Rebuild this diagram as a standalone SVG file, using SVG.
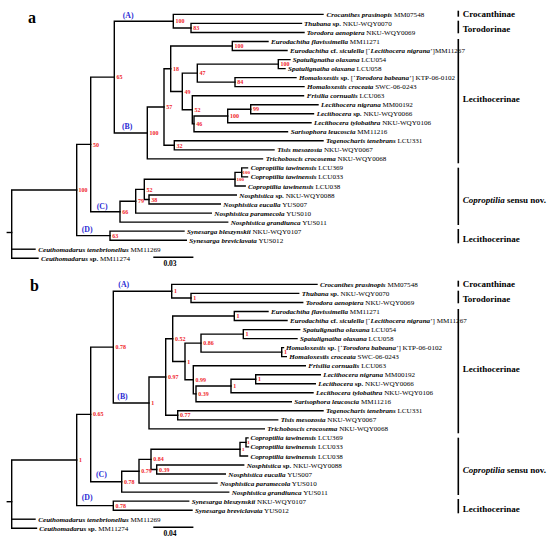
<svg xmlns="http://www.w3.org/2000/svg" width="550" height="541" viewBox="0 0 550 541">
<style>
.br{stroke:#000;stroke-width:1.4;fill:none;stroke-linecap:square}
.t{font-family:"Liberation Serif",serif;font-size:7.1px;fill:#000}
.sp{font-weight:bold;font-style:italic}
.b{font-weight:bold}
.bs{font-family:"Liberation Serif",serif;font-size:6px;font-weight:bold;fill:#f0262b}
.bsm{font-family:"Liberation Serif",serif;font-size:5px;font-weight:bold;fill:#f0262b}
.cl{font-family:"Liberation Serif",serif;font-size:7.8px;font-weight:bold;fill:#2a2ad4}
.grp{font-family:"Liberation Serif",serif;font-size:9px;font-weight:bold;fill:#000}
.bar{stroke:#000;stroke-width:1.6}
.pl{font-family:"Liberation Serif",serif;font-size:16px;font-weight:bold}
.sc{font-family:"Liberation Serif",serif;font-size:7.5px;font-weight:bold;text-anchor:middle}
</style>
<defs>
<g id="groups">
<g id="grp-crocanthinae"><line class="bar" x1="458.3" y1="10.7" x2="458.3" y2="16.7"/><text class="grp" x="462.7" y="17">Crocanthinae</text></g>
<g id="grp-torodorinae"><line class="bar" x1="458.3" y1="20.7" x2="458.3" y2="33.3"/><text class="grp" x="462.7" y="31.5">Torodorinae</text></g>
<g id="grp-lecithocerinae1"><line class="bar" x1="458.3" y1="39" x2="458.3" y2="163.3"/><text class="grp" x="462.7" y="102">Lecithocerinae</text></g>
<g id="grp-coproptilia"><line class="bar" x1="458.3" y1="167.7" x2="458.3" y2="225"/><text class="grp" x="462.7" y="202.5"><tspan font-style="italic">Coproptilia</tspan> sensu nov.</text></g>
<g id="grp-lecithocerinae2"><line class="bar" x1="458.3" y1="229" x2="458.3" y2="243.3"/><text class="grp" x="462.7" y="241.5">Lecithocerinae</text></g>
</g>
</defs>

<!-- ================= TREE A ================= -->
<g id="tree-a">
<text class="pl" x="28" y="22.5">a</text>
<g id="a-connectors">
<path class="br" d="M76.7 190 H11.7 V258.2 H38"/>
<path class="br" d="M11.7 249.2 H35"/>
<path class="br" d="M7.3 232.5 H11.7"/>
<path class="br" d="M90.7 144.4 H76.7 V235.6 H110"/>
<path class="br" d="M114.3 77.1 H90.7 V211.7 H120"/>
<path class="br" d="M173.3 21.2 H114.3 V133 H147.3"/>
<path class="br" d="M323 14.4 H173.3 V28 H191"/>
<path class="br" d="M301.5 23.4 H191 V32.5 H304"/>
<path class="br" d="M164 107 H147.3 V158.9 H262.5"/>
<path class="br" d="M170.7 68.7 H164 V145.3 H174.3"/>
<path class="br" d="M232.3 46 H170.7 V91.5 H182.3"/>
<path class="br" d="M268 41.5 H232.3 V50.5 H287"/>
<path class="br" d="M197.3 73.1 H182.3 V109.8 H192.3"/>
<path class="br" d="M278.3 64.1 H197.3 V82.1 H235"/>
<path class="br" d="M290 59.6 H278.3 V68.6 H285"/>
<path class="br" d="M296 77.6 H235 V86.6 H304"/>
<path class="br" d="M303.5 95.7 H192.3 V123.9 H194"/>
<path class="br" d="M227.7 116 H194 V131.8 H287.5"/>
<path class="br" d="M250.7 109.2 H227.7 V122.8 H311"/>
<path class="br" d="M318 104.7 H250.7 V113.7 H313.5"/>
<path class="br" d="M323 140.8 H174.3 V149.9 H274"/>
<path class="br" d="M135.7 201.2 H120 V222.1 H227.7"/>
<path class="br" d="M144.3 189.4 H135.7 V213.1 H211.3"/>
<path class="br" d="M235 179.2 H144.3 V199.5 H149"/>
<path class="br" d="M241.7 172.4 H235 V186 H245.2"/>
<path class="br" d="M247.5 167.9 H241.7 V176.9 H247.5"/>
<path class="br" d="M236.3 195 H149 V204 H220.3"/>
<path class="br" d="M184 231.1 H110 V240.2 H186.3"/>
<path class="br" d="M154 257.3 H192.7"/>
</g>
<text class="sc" x="170" y="265.5">0.03</text>
<g id="a-clades">
<text class="cl" x="122.7" y="17.5">(A)</text>
<text class="cl" x="122" y="129.2">(B)</text>
<text class="cl" x="96.7" y="208.5">(C)</text>
<text class="cl" x="81.7" y="232">(D)</text>
</g>
<g id="a-support">
<text class="bs" x="78.5" y="192.2">100</text>
<text class="bs" x="93" y="146.6">50</text>
<text class="bs" x="116.6" y="79.3">65</text>
<text class="bs" x="175.6" y="23.4">100</text>
<text class="bs" x="193.3" y="30.2">83</text>
<text class="bs" x="149.6" y="135.2">100</text>
<text class="bs" x="166.3" y="109.2">57</text>
<text class="bs" x="173" y="70.9">18</text>
<text class="bs" x="234.6" y="48.2">100</text>
<text class="bs" x="184.6" y="93.7">49</text>
<text class="bs" x="199.6" y="75.3">47</text>
<text class="bs" x="280.6" y="66.3">100</text>
<text class="bs" x="237.3" y="84.3">84</text>
<text class="bs" x="194.6" y="112">52</text>
<text class="bs" x="196.3" y="126.1">46</text>
<text class="bs" x="230" y="118.2">100</text>
<text class="bs" x="253" y="111.4">99</text>
<text class="bs" x="176.6" y="147.5">32</text>
<text class="bs" x="122.3" y="213.9">66</text>
<text class="bs" x="138" y="203.4">79</text>
<text class="bs" x="146.6" y="191.6">52</text>
<text class="bs" x="151.3" y="201.7">38</text>
<text class="bsm" x="236.6" y="181.1">100</text>
<text class="bsm" x="242.6" y="174.2">100</text>
<text class="bs" x="112.3" y="237.8">63</text>
</g>
<g id="a-taxa">
<text id="a01" class="t" x="326.5" y="16.9"><tspan class="sp">Crocanthes prasinopis</tspan> MM07548</text>
<text id="a02" class="t" x="304" y="25.9"><tspan class="sp">Thubana</tspan> <tspan class="b">sp.</tspan> NKU-WQY0070</text>
<text id="a03" class="t" x="306.7" y="35"><tspan class="sp">Torodora aenoptera</tspan> NKU-WQY0069</text>
<text id="a04" class="t" x="271" y="44"><tspan class="sp">Eurodachtha flavissimella</tspan> MM11271</text>
<text id="a05" class="t" x="290" y="53"><tspan class="sp">Eurodachtha</tspan> <tspan class="b">cf.</tspan> <tspan class="sp">siculella</tspan> [‘<tspan class="sp">Lecithocera nigrana</tspan>’]MM11267</text>
<text id="a06" class="t" x="292.7" y="62.1"><tspan class="sp">Spatulignatha olaxana</tspan> LCU054</text>
<text id="a07" class="t" x="288" y="71.1"><tspan class="sp">Spatulignatha olaxana</tspan> LCU058</text>
<text id="a08" class="t" x="299" y="80.1"><tspan class="sp">Homaloxestis</tspan> <tspan class="b">sp.</tspan> [‘<tspan class="sp">Torodora babeana</tspan>’] KTP-06-0102</text>
<text id="a09" class="t" x="307" y="89.1"><tspan class="sp">Homaloxestis croceata</tspan> SWC-06-0243</text>
<text id="a10" class="t" x="306.7" y="98.2"><tspan class="sp">Frisilia cornualis</tspan> LCU063</text>
<text id="a11" class="t" x="321" y="107.2"><tspan class="sp">Lecithocera nigrana</tspan> MM00192</text>
<text id="a12" class="t" x="316.7" y="116.2"><tspan class="sp">Lecithocera</tspan> <tspan class="b">sp.</tspan> NKU-WQY0066</text>
<text id="a13" class="t" x="314" y="125.3"><tspan class="sp">Lecithocera tylobathra</tspan> NKU-WQY0106</text>
<text id="a14" class="t" x="290.7" y="134.3"><tspan class="sp">Sarisophora leucoscia</tspan> MM11216</text>
<text id="a15" class="t" x="326" y="143.3"><tspan class="sp">Tegenocharis tenebrans</tspan> LCU331</text>
<text id="a16" class="t" x="277.3" y="152.4"><tspan class="sp">Tisis mesozosta</tspan> NKU-WQY0067</text>
<text id="a17" class="t" x="265.7" y="161.4"><tspan class="sp">Trichoboscis crocosema</tspan> NKU-WQY0068</text>
<text id="a18" class="t" x="250.8" y="170.4"><tspan class="sp">Coproptilia tawinensis</tspan> LCU369</text>
<text id="a19" class="t" x="250.8" y="179.4"><tspan class="sp">Coproptilia tawinensis</tspan> LCU033</text>
<text id="a20" class="t" x="248" y="188.5"><tspan class="sp">Coproptilia tawinensis</tspan> LCU038</text>
<text id="a21" class="t" x="239.3" y="197.5"><tspan class="sp">Nosphistica</tspan> <tspan class="b">sp.</tspan> NKU-WQY0088</text>
<text id="a22" class="t" x="223.3" y="206.5"><tspan class="sp">Nosphistica eucalla</tspan> YUS007</text>
<text id="a23" class="t" x="214.3" y="215.6"><tspan class="sp">Nosphistica paramecola</tspan> YUS010</text>
<text id="a24" class="t" x="230.7" y="224.6"><tspan class="sp">Nosphistica grandiunca</tspan> YUS011</text>
<text id="a25" class="t" x="187" y="233.6"><tspan class="sp">Synesarga bleszynskii</tspan> NKU-WQY0107</text>
<text id="a26" class="t" x="189.3" y="242.7"><tspan class="sp">Synesarga breviclavata</tspan> YUS012</text>
<text id="a27" class="t" x="38.3" y="251.7"><tspan class="sp">Ceuthomadarus tenebrionellus</tspan> MM11269</text>
<text id="a28" class="t" x="41" y="260.7"><tspan class="sp">Ceuthomadarus</tspan> <tspan class="b">sp.</tspan> MM11274</text>
</g>
<use id="a-groups" href="#groups"/>
</g>

<!-- ================= TREE B ================= -->
<g id="tree-b" transform="translate(0,270)">
<text class="pl" x="30" y="20.5">b</text>
<g id="b-connectors">
<path class="br" d="M76.7 190 H11.7 V258.2 H36.5"/>
<path class="br" d="M11.7 249.2 H35"/>
<path class="br" d="M7.3 231.7 H11.7"/>
<path class="br" d="M90.7 144.4 H76.7 V235.6 H113.3"/>
<path class="br" d="M113.3 77.1 H90.7 V211.7 H121.7"/>
<path class="br" d="M171.7 21.2 H113.3 V133 H149"/>
<path class="br" d="M317 14.4 H171.7 V28 H191"/>
<path class="br" d="M298.7 23.4 H191 V32.5 H302.7"/>
<path class="br" d="M165.7 107 H149 V158.9 H264.3"/>
<path class="br" d="M172.7 68.7 H165.7 V145.3 H177.7"/>
<path class="br" d="M234.3 46 H172.7 V91.5 H185"/>
<path class="br" d="M268 41.5 H234.3 V50.5 H287"/>
<path class="br" d="M201 73.1 H185 V109.8 H193.3"/>
<path class="br" d="M243.3 64.1 H201 V82.1 H281.7"/>
<path class="br" d="M299.7 59.6 H243.3 V68.6 H297"/>
<path class="br" d="M283.5 77.6 H281.7 V86.6 H286.3"/>
<path class="br" d="M305.3 95.7 H193.3 V123.9 H196"/>
<path class="br" d="M231 116 H196 V131.8 H291.3"/>
<path class="br" d="M255.7 109.2 H231 V122.8 H313"/>
<path class="br" d="M320.3 104.7 H255.7 V113.7 H315.3"/>
<path class="br" d="M323 140.8 H177.7 V149.9 H277.7"/>
<path class="br" d="M139 201.2 H121.7 V222.1 H228.7"/>
<path class="br" d="M151 189.4 H139 V213.1 H217"/>
<path class="br" d="M240 179.2 H151 V199.5 H156.7"/>
<path class="br" d="M246 172.4 H240 V186 H247.5"/>
<path class="br" d="M248 167.9 H246 V176.9 H248.5"/>
<path class="br" d="M243.7 195 H156.7 V204 H225.3"/>
<path class="br" d="M188.7 231.1 H113.3 V240.2 H192"/>
<path class="br" d="M154 257.3 H192.7"/>
</g>
<text class="sc" x="170" y="265.5">0.04</text>
<g id="b-clades">
<text class="cl" x="118.3" y="16.5">(A)</text>
<text class="cl" x="117.3" y="128.5">(B)</text>
<text class="cl" x="96" y="207">(C)</text>
<text class="cl" x="81.7" y="230.3">(D)</text>
</g>
<g id="b-support">
<text class="bs" x="79" y="192">1</text>
<text class="bs" x="93" y="146.4">0.65</text>
<text class="bs" x="115.6" y="79.1">0.78</text>
<text class="bs" x="174" y="23.2">1</text>
<text class="bs" x="193.3" y="30">1</text>
<text class="bs" x="151.3" y="135">1</text>
<text class="bs" x="168" y="109">0.97</text>
<text class="bs" x="175" y="70.7">0.52</text>
<text class="bs" x="236.6" y="48">1</text>
<text class="bs" x="187.3" y="93.5">1</text>
<text class="bs" x="203.3" y="75.1">0.86</text>
<text class="bs" x="245.6" y="66.1">1</text>
<text class="bs" x="284" y="84.1">1</text>
<text class="bs" x="195.6" y="111.8">0.99</text>
<text class="bs" x="198.3" y="125.9">0.39</text>
<text class="bs" x="233.3" y="118">1</text>
<text class="bs" x="258" y="111.2">1</text>
<text class="bs" x="180" y="147.3">0.77</text>
<text class="bs" x="124" y="213.7">0.78</text>
<text class="bs" x="141.3" y="203.2">0.79</text>
<text class="bs" x="153.3" y="191.4">0.84</text>
<text class="bs" x="159" y="201.5">0.39</text>
<text class="bsm" x="242" y="181">1</text>
<text class="bsm" x="247.3" y="174.1">1</text>
<text class="bs" x="115.6" y="237.6">0.78</text>
</g>
<g id="b-taxa">
<text id="b01" class="t" x="320" y="16.9"><tspan class="sp">Crocanthes prasinopis</tspan> MM07548</text>
<text id="b02" class="t" x="301.7" y="25.9"><tspan class="sp">Thubana</tspan> <tspan class="b">sp.</tspan> NKU-WQY0070</text>
<text id="b03" class="t" x="305.7" y="35"><tspan class="sp">Torodora aenoptera</tspan> NKU-WQY0069</text>
<text id="b04" class="t" x="271" y="44"><tspan class="sp">Eurodachtha flavissimella</tspan> MM11271</text>
<text id="b05" class="t" x="290" y="53"><tspan class="sp">Eurodachtha</tspan> <tspan class="b">cf.</tspan> <tspan class="sp">siculella</tspan> [‘<tspan class="sp">Lecithocera nigrana</tspan>’] MM11267</text>
<text id="b06" class="t" x="302.7" y="62.1"><tspan class="sp">Spatulignatha olaxana</tspan> LCU054</text>
<text id="b07" class="t" x="300" y="71.1"><tspan class="sp">Spatulignatha olaxana</tspan> LCU058</text>
<text id="b08" class="t" x="286" y="80.1"><tspan class="sp">Homaloxestis</tspan> <tspan class="b">sp.</tspan> [‘<tspan class="sp">Torodora babeana</tspan>’] KTP-06-0102</text>
<text id="b09" class="t" x="289.3" y="89.1"><tspan class="sp">Homaloxestis croceata</tspan> SWC-06-0243</text>
<text id="b10" class="t" x="308.3" y="98.2"><tspan class="sp">Frisilia cornualis</tspan> LCU063</text>
<text id="b11" class="t" x="323.3" y="107.2"><tspan class="sp">Lecithocera nigrana</tspan> MM00192</text>
<text id="b12" class="t" x="318.3" y="116.2"><tspan class="sp">Lecithocera</tspan> <tspan class="b">sp.</tspan> NKU-WQY0066</text>
<text id="b13" class="t" x="316" y="125.3"><tspan class="sp">Lecithocera tylobathra</tspan> NKU-WQY0106</text>
<text id="b14" class="t" x="294.3" y="134.3"><tspan class="sp">Sarisophora leucoscia</tspan> MM11216</text>
<text id="b15" class="t" x="326" y="143.3"><tspan class="sp">Tegenocharis tenebrans</tspan> LCU331</text>
<text id="b16" class="t" x="280.7" y="152.4"><tspan class="sp">Tisis mesozosta</tspan> NKU-WQY0067</text>
<text id="b17" class="t" x="267.3" y="161.4"><tspan class="sp">Trichoboscis crocosema</tspan> NKU-WQY0068</text>
<text id="b18" class="t" x="250.5" y="170.4"><tspan class="sp">Coproptilia tawinensis</tspan> LCU369</text>
<text id="b19" class="t" x="250.5" y="179.4"><tspan class="sp">Coproptilia tawinensis</tspan> LCU033</text>
<text id="b20" class="t" x="250.5" y="188.5"><tspan class="sp">Coproptilia tawinensis</tspan> LCU038</text>
<text id="b21" class="t" x="246.7" y="197.5"><tspan class="sp">Nosphistica</tspan> <tspan class="b">sp.</tspan> NKU-WQY0088</text>
<text id="b22" class="t" x="228.3" y="206.5"><tspan class="sp">Nosphistica eucalla</tspan> YUS007</text>
<text id="b23" class="t" x="220" y="215.6"><tspan class="sp">Nosphistica paramecola</tspan> YUS010</text>
<text id="b24" class="t" x="231.7" y="224.6"><tspan class="sp">Nosphistica grandiunca</tspan> YUS011</text>
<text id="b25" class="t" x="191.7" y="233.6"><tspan class="sp">Synesarga bleszynskii</tspan> NKU-WQY0107</text>
<text id="b26" class="t" x="195" y="242.7"><tspan class="sp">Synesarga breviclavata</tspan> YUS012</text>
<text id="b27" class="t" x="38.3" y="251.7"><tspan class="sp">Ceuthomadarus tenebrionellus</tspan> MM11269</text>
<text id="b28" class="t" x="39.3" y="260.7"><tspan class="sp">Ceuthomadarus</tspan> <tspan class="b">sp.</tspan> MM11274</text>
</g>
<use id="b-groups" href="#groups"/>
</g>
</svg>
